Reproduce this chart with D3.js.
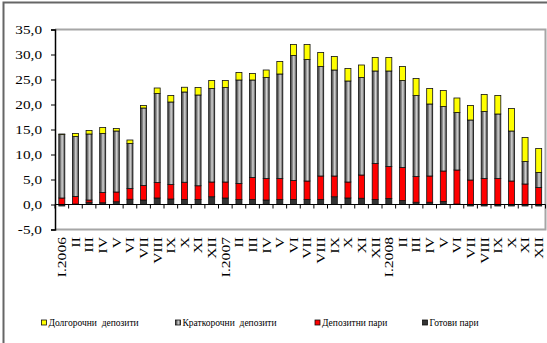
<!DOCTYPE html>
<html>
<head>
<meta charset="utf-8">
<script src="https://cdn.jsdelivr.net/npm/d3@7/dist/d3.min.js"></script>
<style>
  html, body { margin: 0; padding: 0; background: #fff; }
  svg { display: block; }
  text { font-family: "Liberation Serif", "Times New Roman", serif; fill: #000; }
</style>
</head>
<body>
<svg id="chart" width="547" height="343"></svg>
<script>
// Monthly labels, January 2006 – December 2008
const months = [
  "I.2006", "II", "III", "IV", "V", "VI", "VII", "VIII", "IX", "X", "XI", "XII",
  "I.2007", "II", "III", "IV", "V", "VI", "VII", "VIII", "IX", "X", "XI", "XII",
  "I.2008", "II", "III", "IV", "V", "VI", "VII", "VIII", "IX", "X", "XI", "XII"
];

// Contributions to growth, percentage points
const gotoviPari = [
  -0.3, 0.1, 0.45, 0.35, 0.55, 1.05, 0.9, 1.3, 1.1, 1.0, 1.0, 1.55,
  1.3, 1.0, 1.0, 0.9, 1.0, 1.0, 1.0, 1.0, 1.55, 1.3, 1.25, 1.0,
  1.2, 0.8, 0.45, 0.45, 0.6, 0.1, -0.3, -0.3, -0.3, -0.3, -0.3, -0.3
];
const depozitniPari = [
  1.3, 1.5, 0.45, 2.05, 1.95, 2.15, 2.9, 3.1, 2.9, 3.45, 2.75, 2.95,
  3.2, 3.2, 4.4, 4.3, 4.2, 3.8, 3.7, 4.7, 4.15, 3.2, 4.65, 7.2,
  6.4, 6.6, 5.15, 5.25, 6.1, 6.8, 4.9, 5.2, 5.2, 4.7, 4.1, 3.4
];
const kratkorochni = [
  12.7, 12.0, 13.2, 11.8, 12.2, 9.0, 15.5, 17.8, 16.5, 18.05, 18.15, 18.7,
  18.9, 20.7, 19.5, 20.2, 20.9, 25.0, 24.3, 21.9, 21.2, 20.2, 19.5, 18.5,
  19.1, 17.4, 16.2, 14.4, 12.9, 11.5, 12.0, 13.4, 12.9, 10.0, 4.5, 3.0
];
const dolgorochni = [
  0.1, 0.6, 0.7, 1.2, 0.5, 0.7, 0.5, 1.1, 1.3, 0.95, 1.5, 1.6,
  1.4, 1.5, 1.3, 1.5, 2.5, 2.2, 3.0, 2.8, 2.7, 2.5, 2.5, 2.7,
  2.7, 2.8, 3.4, 3.1, 3.2, 2.9, 2.9, 3.4, 3.7, 4.5, 4.8, 4.8
];

const seriesNames = ["Готови пари", "Депозитни пари", "Краткорочни  депозити", "Долгорочни  депозити"];
const seriesKeys = ["gotovi", "depozitni", "kratkorochni", "dolgorochni"];
const yTicks = [-5, 0, 5, 10, 15, 20, 25, 30, 35];

const rows = months.map((m, i) => ({
  key: i,
  label: m,
  gotovi: gotoviPari[i],
  depozitni: depozitniPari[i],
  kratkorochni: kratkorochni[i],
  dolgorochni: dolgorochni[i]
}));

const svg = d3.select("#chart");

// Gradient used for the short-term deposits bars (shaded cylinder look)
const defs = svg.append("defs");
const grad = defs.append("linearGradient").attr("id", "greyShade")
  .attr("x1", "0%").attr("x2", "100%").attr("y1", "0%").attr("y2", "0%");
[["0%", "#3c3c3c"], ["30%", "#7a7a7a"], ["55%", "#d4d4d4"], ["75%", "#9a9a9a"], ["100%", "#3c3c3c"]]
  .forEach(([o, c]) => grad.append("stop").attr("offset", o).attr("stop-color", c));

const fills = {
  gotovi: "#333333",
  depozitni: "#ff0000",
  kratkorochni: "url(#greyShade)",
  dolgorochni: "#ffff00"
};

const plot = { left: 55, right: 545.5, top: 29.5, bottom: 229.5 };

const x = d3.scaleBand()
  .domain(rows.map(r => r.key))
  .range([plot.left, plot.right])
  .paddingInner(0.56)
  .paddingOuter(0.28);

const y = d3.scaleLinear().domain([-5, 35]).range([plot.bottom, plot.top]);

// Outer frame
svg.append("path")
  .attr("d", `M3.5,343 V2.5 H547`)
  .attr("fill", "none").attr("stroke", "#666").attr("stroke-width", 2);

// Plot area border (top, right, bottom)
svg.append("path")
  .attr("d", `M${plot.left},${plot.top} H${plot.right} V${plot.bottom} H${plot.left}`)
  .attr("fill", "none").attr("stroke", "#a6a6a6").attr("stroke-width", 2);

// Stacked bars
const stack = d3.stack().keys(seriesKeys).offset(d3.stackOffsetDiverging);
const layers = stack(rows);

svg.append("g").selectAll("g")
  .data(layers)
  .join("g")
  .attr("fill", d => fills[d.key])
  .selectAll("rect")
  .data(d => d)
  .join("rect")
  .attr("x", d => x(d.data.key))
  .attr("width", x.bandwidth())
  .attr("y", d => y(Math.max(d[0], d[1])))
  .attr("height", d => Math.abs(y(d[0]) - y(d[1])))
  .attr("stroke", "#111")
  .attr("stroke-width", 0.8);

// Y axis
const yAxis = d3.axisLeft(y)
  .tickValues(yTicks)
  .tickSize(4)
  .tickPadding(9)
  .tickFormat(d => d3.format(".1f")(d).replace(".", ",").replace("−", "-"));

const gy = svg.append("g")
  .attr("transform", `translate(${plot.left},0)`)
  .call(yAxis);
gy.select(".domain").attr("stroke", "#000").attr("stroke-width", 1.5);
gy.selectAll(".tick line").attr("stroke", "#000");
gy.selectAll(".tick text")
  .attr("font-size", 12.5)
  .attr("font-family", "Liberation Serif, serif")
  .each(function () {
    const t = d3.select(this);
    const xx = +t.attr("x");
    t.attr("x", null).attr("transform", `translate(${xx},0) scale(1.22,1)`);
  });

// Category axis along zero
const gx = svg.append("g").attr("transform", `translate(0,${y(0)})`);
gx.append("line")
  .attr("x1", plot.left).attr("x2", plot.right)
  .attr("stroke", "#000").attr("stroke-width", 1.2);
const step = x.step();
gx.selectAll("line.tk")
  .data(d3.range(rows.length + 1))
  .join("line")
  .attr("class", "tk")
  .attr("x1", i => plot.left + i * step)
  .attr("x2", i => plot.left + i * step)
  .attr("y1", 0).attr("y2", 4)
  .attr("stroke", "#000");

// Month labels, rotated, below the plot
svg.append("g").selectAll("text")
  .data(rows)
  .join("text")
  .attr("transform", d => `translate(${x(d.key) + x.bandwidth() / 2},237) rotate(-90) scale(1.25,1)`)
  .attr("text-anchor", "end")
  .attr("dominant-baseline", "central")
  .attr("font-size", 12.5)
  .text(d => d.label);

// Legend
const legendItems = [
  { key: "dolgorochni", name: seriesNames[3], x: 41.5 },
  { key: "kratkorochni", name: seriesNames[2], x: 175.5 },
  { key: "depozitni", name: seriesNames[1], x: 315 },
  { key: "gotovi", name: seriesNames[0], x: 422.5 }
];
const lg = svg.append("g").selectAll("g")
  .data(legendItems)
  .join("g")
  .attr("transform", d => `translate(${d.x},322.5)`);
lg.append("rect")
  .attr("x", 0).attr("y", -2.5)
  .attr("width", 5).attr("height", 5)
  .attr("fill", d => fills[d.key])
  .attr("stroke", "#111").attr("stroke-width", 0.8);
lg.append("text")
  .attr("x", 7)
  .attr("y", 0)
  .attr("dominant-baseline", "central")
  .attr("font-size", 9.5)
  .style("white-space", "pre")
  .attr("xml:space", "preserve")
  .text(d => d.name);
</script>
</body>
</html>
